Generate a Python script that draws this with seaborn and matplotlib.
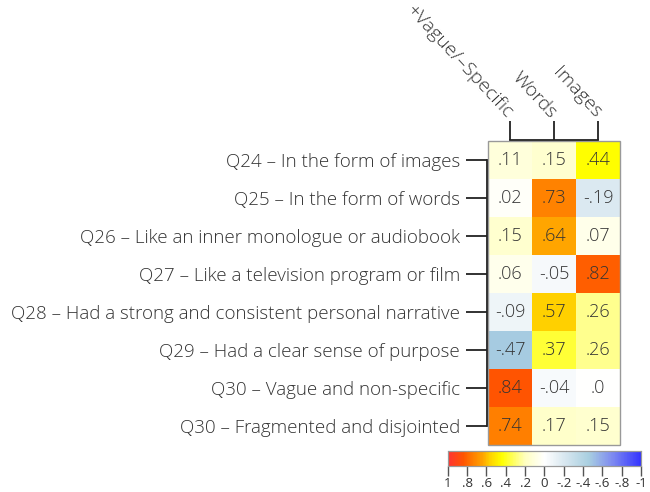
import numpy as np
import pandas as pd
import matplotlib
matplotlib.use("Agg")
import matplotlib.pyplot as plt
import seaborn as sns
from matplotlib.colors import LinearSegmentedColormap
from matplotlib.patches import Rectangle

# data
questions = ["Q24 \u2013 In the form of images",
             "Q25 \u2013 In the form of words",
             "Q26 \u2013 Like an inner monologue or audiobook",
             "Q27 \u2013 Like a television program or film",
             "Q28 \u2013 Had a strong and consistent personal narrative",
             "Q29 \u2013 Had a clear sense of purpose",
             "Q30 \u2013 Vague and non-specific",
             "Q30 \u2013 Fragmented and disjointed"]
factors = ["+Vague/\u2013Specific", "Words", "Images"]
vague = [0.11, 0.02, 0.15, 0.06, -0.09, -0.47, 0.84, 0.74]
words = [0.15, 0.73, 0.64, -0.05, 0.57, 0.37, -0.04, 0.17]
images = [0.44, -0.19, 0.07, 0.82, 0.26, 0.26, 0.0, 0.15]
cbar_ticks = [1, 0.8, 0.6, 0.4, 0.2, 0, -0.2, -0.4, -0.6, -0.8, -1]
cbar_labels = ["1", ".8", ".6", ".4", ".2", "0", "-.2", "-.4", "-.6", "-.8", "-1"]

df = pd.DataFrame({factors[0]: vague, factors[1]: words, factors[2]: images}, index=questions)

def short(v):
    s = "%.2f" % v
    s = s.replace("0.", ".")
    if s.endswith("00"):
        s = s[:-1]
    return s

labels = df.map(short).values

cmap = LinearSegmentedColormap.from_list("ld", [
    (0.0, "#3434ff"), (0.15, "#7f8cf0"), (0.27, "#a9cfe0"), (0.4, "#dae8f0"),
    (0.5, "#ffffff"), (0.6, "#ffffc0"), (0.72, "#ffff00"), (0.785, "#ffd000"),
    (0.82, "#ffa500"), (0.87, "#ff8000"), (0.92, "#ff5500"), (1.0, "#ff3333")])

plt.rcParams['font.family'] = ['Open Sans', 'DejaVu Sans']
txt = "#333333"
fig = plt.figure(figsize=(6.5, 4.92), dpi=100)
ax = fig.add_axes([0.7508, 0.0955, 0.203, 0.618])
cax = fig.add_axes([0.689, 0.0528, 0.297, 0.0305])

sns.heatmap(df, ax=ax, cmap=cmap, vmin=-1, vmax=1, annot=labels, fmt="",
            annot_kws={"fontsize": 13, "color": txt, "fontweight": "light"},
            cbar=True, cbar_ax=cax, cbar_kws={"orientation": "horizontal", "ticks": cbar_ticks})

ax.add_patch(Rectangle((0, 0), 3, 8, fill=False, edgecolor="#999999", lw=1, clip_on=False))

# bracket-style axes
ax.xaxis.tick_top()
ax.set_xlabel("")
ax.set_ylabel("")
for s in ["right", "bottom"]:
    ax.spines[s].set_visible(False)
for s in ["top", "left"]:
    ax.spines[s].set_visible(True)
    ax.spines[s].set_color("#222222")
    ax.spines[s].set_linewidth(1.3)
ax.spines["top"].set_bounds(0.5, 2.5)
ax.spines["left"].set_bounds(0.5, 7.5)
ax.spines["top"].set_position(("outward", 1))
ax.spines["left"].set_position(("outward", 1))
ax.tick_params(axis="x", length=14, width=1.3, color="#222222", pad=3)
ax.tick_params(axis="y", length=15, width=1.3, color="#222222", pad=4)
ax.set_yticklabels(questions, rotation=0, fontsize=13.5, color=txt, fontweight="light")
ax.set_xticklabels(factors, rotation=-47, ha="right", va="center",
                   rotation_mode="anchor", fontsize=14, color=txt, fontweight="light")

cax.invert_xaxis()
cax.tick_params(axis="x", length=7, width=1, color="#555555", labelsize=9.5,
                labelcolor=txt, pad=1)
cax.set_xticklabels(cbar_labels)
for s in cax.spines.values():
    s.set_visible(True)
    s.set_color("#999999")
    s.set_linewidth(0.8)

fig.savefig("out.png", dpi=100)
